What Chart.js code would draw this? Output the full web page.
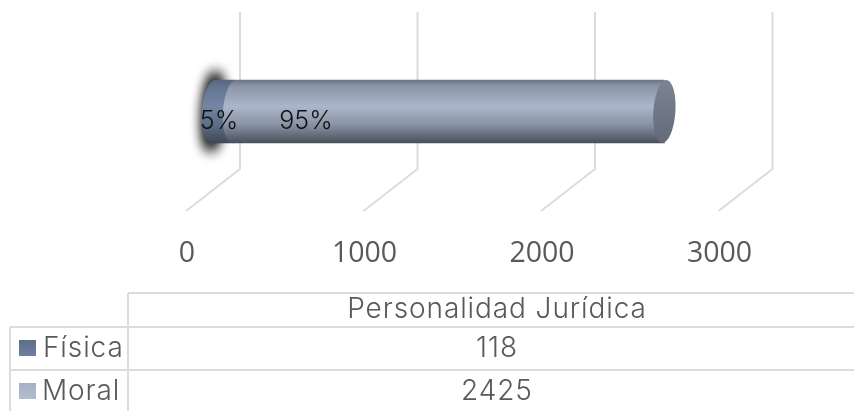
<!DOCTYPE html>
<html><head><meta charset="utf-8">
<style>html,body{margin:0;padding:0;background:#fff}#w{width:854px;height:411px;position:relative}</style>
<script src="https://cdn.jsdelivr.net/npm/chart.js@4"></script>
</head><body><div id="w"><canvas id="c" width="854" height="411"></canvas></div>
<script>
const categories = ["Personalidad Jurídica"];
const seriesNames = ["Física", "Moral"];
const fisica = [118];
const moral = [2425];
const xTicks = [0, 1000, 2000, 3000];

const GRID = '#dcdcdc', TEXT = '#595959';
const TABLE_FONT = '300 28px Inter, "Noto Sans", sans-serif';
const BAR_H = 63;

function vGrad(c, y, stops){
  const g = c.createLinearGradient(0, y - BAR_H/2, 0, y + BAR_H/2);
  stops.forEach(s => g.addColorStop(s[0], s[1]));
  return g;
}
const stopsF = [[0,'#59667d'],[.1,'#64748f'],[.42,'#7386a6'],[.7,'#5f6e88'],[1,'#3f4859']];
const stopsM = [[0,'#6e7684'],[.1,'#8b96a9'],[.42,'#aab6ca'],[.7,'#8a94a6'],[.9,'#5f6774'],[1,'#4a505c']];
const stopsC = [[0,'#7c8492'],[.5,'#6f7786'],[1,'#636a78']];

function ell(c, x, y, rx, ry, fill){
  c.beginPath();
  c.ellipse(x, y, rx, ry, 0.07, 0, Math.PI*2);
  c.fillStyle = fill;
  c.fill();
}
const plugin = {
  id: 'cyl',
  beforeDatasetsDraw(chart){
    const c = chart.ctx, xs = chart.scales.x, ys = chart.scales.y;
    c.save();
    c.strokeStyle = GRID; c.lineWidth = 2;
    xTicks.forEach(v => {
      const x = xs.getPixelForValue(v);
      c.beginPath();
      c.moveTo(x + 27, ys.top);
      c.lineTo(x + 27, ys.bottom - 42);
      c.lineTo(x - 27, ys.bottom);
      c.stroke();
    });
    c.restore();
    const f = chart.getDatasetMeta(0).data[0];
    c.save();
    c.shadowColor = 'rgba(15,15,15,1)';
    c.shadowBlur = 13;
    c.shadowOffsetX = 2000;
    // the source shape sits off-canvas so that only its soft shadow lands here
    ell(c, f.base - 2000, f.y, 9, BAR_H/2 + 9, '#000');
    ell(c, f.base - 2000, f.y, 9, BAR_H/2 + 7, '#000');
    c.restore();
    ell(c, f.base, f.y, 11, BAR_H/2, vGrad(c, f.y, stopsF));
  },
  afterDatasetsDraw(chart){
    const c = chart.ctx;
    const f = chart.getDatasetMeta(0).data[0];
    const m = chart.getDatasetMeta(1).data[0];
    ell(c, m.base, m.y, 11, BAR_H/2, vGrad(c, m.y, stopsM));
    ell(c, m.x, m.y, 11, BAR_H/2, vGrad(c, m.y, stopsC));
    const total = fisica[0] + moral[0];
    c.save();
    c.fillStyle = '#111';
    c.font = '300 25px Inter, "Noto Sans", sans-serif';
    c.textAlign = 'center'; c.textBaseline = 'middle';
    c.fillText(Math.round(fisica[0]/total*100) + '%', f.base + 6, f.y + 10);
    c.fillText(Math.round(moral[0]/total*100) + '%', m.base + 72, m.y + 10);
    c.restore();
  },
  afterDraw(chart){
    const c = chart.ctx;
    c.save();
    c.strokeStyle = GRID; c.lineWidth = 2;
    const seg = (a,b,d,e) => { c.beginPath(); c.moveTo(a,b); c.lineTo(d,e); c.stroke(); };
    seg(128,293,854,293);
    seg(128,293,128,411);
    seg(10,327,854,327);
    seg(10,370,854,370);
    seg(10,327,10,411);
    c.font = TABLE_FONT;
    c.letterSpacing = '0.9px';
    c.fillStyle = TEXT;
    c.textBaseline = 'middle';
    c.textAlign = 'center';
    c.fillText(categories[0], 497, 310);
    c.fillText(String(fisica[0]), 497, 349);
    c.fillText(String(moral[0]), 497, 392);
    c.textAlign = 'left';
    c.fillText(seriesNames[0], 43, 349);
    c.fillText(seriesNames[1], 42, 392);
    let g = c.createLinearGradient(0,340,0,356);
    g.addColorStop(0,'#5e6d88'); g.addColorStop(1,'#6f80a0');
    c.fillStyle = g; c.fillRect(19,340,17,16);
    g = c.createLinearGradient(0,383,0,399);
    g.addColorStop(0,'#a6b0c4'); g.addColorStop(1,'#b4bdcf');
    c.fillStyle = g; c.fillRect(19,383,17,16);
    c.restore();
  }
};

function barFill(stops){
  return ctx => {
    const s = ctx.chart.scales.y;
    const y = s ? s.getPixelForValue(0) : NaN;
    if (!Number.isFinite(y)) return stops[2][1];
    return vGrad(ctx.chart.ctx, y, stops);
  };
}

new Chart(document.getElementById('c'), {
  type: 'bar',
  data: {
    labels: categories,
    datasets: [
      { label: seriesNames[0], data: fisica, backgroundColor: barFill(stopsF), barThickness: BAR_H, borderWidth: 0 },
      { label: seriesNames[1], data: moral, backgroundColor: barFill(stopsM), barThickness: BAR_H, borderWidth: 0 }
    ]
  },
  options: {
    indexAxis: 'y',
    responsive: false,
    animation: false,
    layout: { padding: { left: 213, right: 108.5, top: 12, bottom: 140 } },
    plugins: { legend: { display: false }, tooltip: { enabled: false } },
    scales: {
      y: { stacked: true, display: false },
      x: {
        stacked: true, min: 0, max: 3000,
        afterBuildTicks(s){ s.ticks = xTicks.map(v => ({ value: v })); },
        afterFit(s){ s.height = 60; },
        border: { display: false },
        grid: { display: false },
        ticks: {
          stepSize: 1000, maxRotation: 0, autoSkip: false, labelOffset: -26,
          padding: 18, color: TEXT,
          callback: v => String(v),
          font: { family: '"Open Sans"', size: 28.5 }
        }
      }
    }
  },
  plugins: [plugin]
});
</script></body></html>
